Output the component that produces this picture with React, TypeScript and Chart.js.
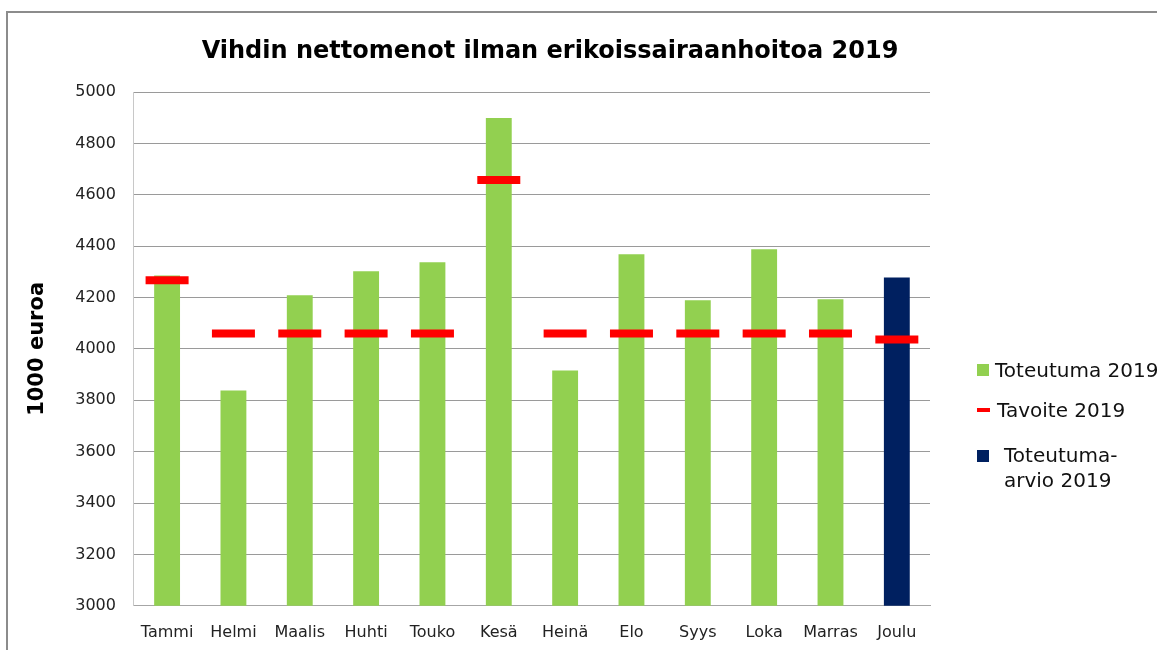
import React, { useEffect, useRef } from "react";
import { Chart, registerables } from "chart.js";

Chart.register(...registerables);

const months = ["Tammi", "Helmi", "Maalis", "Huhti", "Touko", "Kesä", "Heinä", "Elo", "Syys", "Loka", "Marras", "Joulu"];
const toteutuma = [4286, 3838, 4209, 4302, 4337, 4899, 3916, 4368, 4189, 4388, 4193, null];
const toteutumaArvio = [null, null, null, null, null, null, null, null, null, null, null, 4278];
const tavoite = [4267, 4060, 4060, 4060, 4060, 4657, 4060, 4060, 4060, 4060, 4060, 4037];
const yTicks = [3000, 3200, 3400, 3600, 3800, 4000, 4200, 4400, 4600, 4800, 5000];

const GREEN = "#92D050";
const NAVY = "#002060";
const RED = "#FF0000";

export default function App() {
  const ref = useRef<HTMLCanvasElement | null>(null);

  useEffect(() => {
    if (!ref.current) return;
    const chart = new Chart(ref.current, {
      type: "bar",
      data: {
        labels: months,
        datasets: [
          {
            type: "line",
            label: "Tavoite 2019",
            data: tavoite,
            showLine: false,
            pointStyle: "line",
            pointRadius: 21.5,
            pointHoverRadius: 21.5,
            pointBorderWidth: 8,
            pointBorderColor: RED,
            pointBackgroundColor: RED,
            borderColor: RED,
            order: 0,
          } as any,
          {
            type: "bar",
            label: "Toteutuma 2019",
            data: toteutuma,
            backgroundColor: GREEN,
            grouped: false,
            categoryPercentage: 1,
            barPercentage: 0.39,
            order: 1,
          } as any,
          {
            type: "bar",
            label: "Toteutuma-arvio 2019",
            data: toteutumaArvio,
            backgroundColor: NAVY,
            grouped: false,
            categoryPercentage: 1,
            barPercentage: 0.39,
            order: 1,
          } as any,
        ],
      },
      options: {
        responsive: false,
        animation: false,
        layout: { padding: { left: 25, right: 170, top: 92, bottom: 0 } },
        plugins: {
          legend: { display: false },
          tooltip: { enabled: false },
          title: { display: false },
        },
        scales: {
          x: {
            grid: { display: false, drawTicks: false },
            border: { display: true, color: "#a6a6a6", width: 1 },
            ticks: { color: "#222", font: { family: "DejaVu Sans", size: 16 }, padding: 17 },
          },
          y: {
            min: 3000,
            max: 5000,
            afterBuildTicks: (axis: any) => {
              axis.ticks = yTicks.map((v) => ({ value: v }));
            },
            grid: { color: "#9a9a9a", lineWidth: 1, drawTicks: false },
            border: { display: true, color: "#c8c8c8", width: 1 },
            ticks: {
              color: "#222",
              font: { family: "DejaVu Sans", size: 16 },
              padding: 18,
              callback: (v: any) => String(v),
            },
            title: {
              display: true,
              text: "1000 euroa",
              color: "#000",
              font: { family: "DejaVu Sans", size: 21, weight: "bold" },
              padding: { top: 0, bottom: 7 },
            },
          },
        },
      },
    });
    return () => chart.destroy();
  }, []);

  const legendText: React.CSSProperties = {
    position: "absolute",
    fontFamily: "DejaVu Sans",
    fontSize: 20,
    color: "#111",
    lineHeight: "25px",
    whiteSpace: "nowrap",
  };

  return (
    <div style={{ position: "absolute", left: 0, top: 0, width: 1157, height: 650, overflow: "hidden", background: "#fff" }}>
      <div style={{ position: "absolute", left: 6, top: 11, width: 1200, height: 700, border: "2px solid #8c8c8c", boxSizing: "border-box" }} />
      <canvas ref={ref} width={1100} height={659} style={{ position: "absolute", left: 0, top: 0, width: 1100, height: 659 }} />
      <div
        style={{
          position: "absolute",
          left: 0,
          width: 1100,
          top: 35,
          textAlign: "center",
          fontFamily: "DejaVu Sans",
          fontWeight: "bold",
          fontSize: 24,
          lineHeight: "30px",
          color: "#000",
          whiteSpace: "nowrap",
        }}
      >
        Vihdin nettomenot ilman erikoissairaanhoitoa 2019
      </div>
      <div style={{ position: "absolute", left: 977, top: 364, width: 12, height: 12, background: GREEN }} />
      <div style={{ ...legendText, left: 995, top: 358 }}>Toteutuma 2019</div>
      <div style={{ position: "absolute", left: 977, top: 408, width: 13, height: 4, background: RED }} />
      <div style={{ ...legendText, left: 997, top: 398 }}>Tavoite 2019</div>
      <div style={{ position: "absolute", left: 977, top: 450, width: 12, height: 12, background: NAVY }} />
      <div style={{ ...legendText, left: 1004, top: 443 }}>Toteutuma-<br />arvio 2019</div>
    </div>
  );
}
